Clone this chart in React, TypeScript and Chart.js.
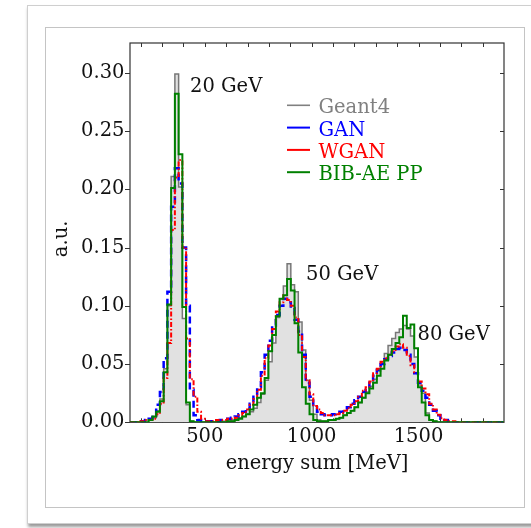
import React, { useEffect, useRef } from "react";
import { Chart, registerables } from "chart.js";

Chart.register(...registerables);

// Histogram binning (energy sum in MeV)
const HIST_MIN = 150;
const HIST_MAX = 1900;
const N_BINS = 100;

const xTicks = [500, 1000, 1500];
const xMinorTicks = [200, 300, 400, 500, 600, 700, 800, 900, 1000, 1100, 1200, 1300, 1400, 1500, 1600, 1700, 1800];
const yTicks = [0, 0.05, 0.1, 0.15, 0.2, 0.25, 0.3];

const seriesLabels = ["Geant4", "GAN", "WGAN", "BIB-AE PP"];
const peakLabels = ["20 GeV", "50 GeV", "80 GeV"];

const geant4 = [
  0, 0, 0, 0.001, 0.002, 0.003, 0.004, 0.010, 0.020, 0.046,
  0.100, 0.211, 0.299, 0.202, 0.089, 0.015, 0.001, 0, 0, 0,
  0, 0, 0, 0.0005, 0.001, 0.001, 0.001, 0.002, 0.003, 0.004,
  0.005, 0.007, 0.009, 0.012, 0.017, 0.024, 0.036, 0.052, 0.068, 0.090,
  0.106, 0.117, 0.136, 0.118, 0.112, 0.086, 0.062, 0.036, 0.019, 0.007,
  0.002, 0.001, 0.001, 0.002, 0.002, 0.003, 0.004, 0.006, 0.008, 0.010,
  0.013, 0.017, 0.021, 0.026, 0.031, 0.037, 0.044, 0.052, 0.059, 0.066,
  0.072, 0.077, 0.080, 0.083, 0.080, 0.074, 0.056, 0.032, 0.025, 0.008,
  0.002, 0.001, 0, 0, 0, 0, 0, 0, 0, 0,
  0, 0, 0, 0, 0, 0, 0, 0, 0, 0,
];

const gan = [
  0, 0, 0, 0.001, 0.002, 0.003, 0.006, 0.015, 0.026, 0.055,
  0.112, 0.185, 0.218, 0.205, 0.150, 0.100, 0.028, 0.006, 0.002, 0.001,
  0.001, 0.001, 0.001, 0.001, 0.002, 0.002, 0.003, 0.004, 0.005, 0.007,
  0.009, 0.012, 0.016, 0.022, 0.030, 0.043, 0.058, 0.070, 0.083, 0.092,
  0.100, 0.106, 0.103, 0.098, 0.088, 0.078, 0.058, 0.034, 0.022, 0.013,
  0.009, 0.007, 0.006, 0.006, 0.007, 0.008, 0.009, 0.011, 0.013, 0.016,
  0.019, 0.022, 0.026, 0.030, 0.034, 0.040, 0.045, 0.050, 0.054, 0.057,
  0.060, 0.063, 0.064, 0.062, 0.058, 0.050, 0.042, 0.034, 0.027, 0.021,
  0.015, 0.010, 0.006, 0.003, 0.002, 0.001, 0, 0, 0, 0,
  0, 0, 0, 0, 0, 0, 0, 0, 0, 0,
];

const wgan = [
  0, 0, 0.001, 0.001, 0.002, 0.002, 0.003, 0.007, 0.016, 0.038,
  0.068, 0.165, 0.210, 0.225, 0.150, 0.072, 0.037, 0.022, 0.009, 0.003,
  0.001, 0.001, 0.001, 0.002, 0.002, 0.002, 0.003, 0.003, 0.004, 0.006,
  0.008, 0.011, 0.015, 0.020, 0.028, 0.040, 0.055, 0.066, 0.080, 0.095,
  0.103, 0.109, 0.105, 0.100, 0.090, 0.075, 0.056, 0.036, 0.024, 0.014,
  0.011, 0.008, 0.006, 0.006, 0.006, 0.007, 0.008, 0.010, 0.012, 0.015,
  0.018, 0.022, 0.027, 0.030, 0.035, 0.042, 0.046, 0.052, 0.055, 0.058,
  0.061, 0.065, 0.067, 0.064, 0.057, 0.049, 0.043, 0.035, 0.029, 0.024,
  0.016, 0.011, 0.0065, 0.0035, 0.002, 0.001, 0.001, 0, 0, 0,
  0, 0, 0, 0, 0, 0, 0, 0, 0, 0,
];

const bibae = [
  0, 0, 0, 0, 0, 0.002, 0.005, 0.009, 0.018, 0.043,
  0.101, 0.201, 0.282, 0.230, 0.099, 0.017, 0.001, 0, 0, 0,
  0, 0, 0, 0, 0, 0, 0.001, 0.001, 0.002, 0.003,
  0.005, 0.007, 0.011, 0.015, 0.021, 0.025, 0.038, 0.061, 0.075, 0.091,
  0.106, 0.109, 0.123, 0.113, 0.085, 0.060, 0.030, 0.016, 0.007, 0.002,
  0.001, 0.001, 0.001, 0.002, 0.002, 0.003, 0.004, 0.006, 0.008, 0.010,
  0.013, 0.017, 0.021, 0.025, 0.029, 0.034, 0.040, 0.046, 0.053, 0.058,
  0.063, 0.068, 0.073, 0.0915, 0.081, 0.084, 0.0635, 0.030, 0.017, 0.006,
  0.002, 0.001, 0, 0, 0, 0, 0, 0, 0, 0,
  0, 0, 0, 0, 0, 0, 0, 0, 0, 0,
];

const FONT_FAMILY = "'DejaVu Serif', 'Liberation Serif', serif";
const FONT_SIZE = 19.5;

const binEdges = Array.from({ length: N_BINS + 1 }, (_, i) => HIST_MIN + (i * (HIST_MAX - HIST_MIN)) / N_BINS);

function stepData(vals: number[]) {
  const pts = vals.map((v, i) => ({ x: binEdges[i], y: v }));
  pts.push({ x: binEdges[N_BINS], y: vals[N_BINS - 1] });
  return pts;
}

const legendColors = ["#808080", "#0000ff", "#ff0000", "#008000"];

const decorPlugin = {
  id: "decor",
  beforeDatasetsDraw(chart: any) {
    const { ctx, chartArea: a, scales } = chart;
    const xs = scales.x;
    const ys = scales.y;
    ctx.save();
    ctx.strokeStyle = "#333";
    ctx.lineWidth = 1.2;
    ctx.strokeRect(a.left, a.top, a.right - a.left, a.bottom - a.top);
    ctx.lineWidth = 1;
    ctx.beginPath();
    for (const v of xMinorTicks) {
      const px = Math.round(xs.getPixelForValue(v)) + 0.5;
      ctx.moveTo(px, a.bottom);
      ctx.lineTo(px, a.bottom - 4);
      ctx.moveTo(px, a.top);
      ctx.lineTo(px, a.top + 4);
    }
    for (const v of yTicks) {
      const py = Math.round(ys.getPixelForValue(v)) + 0.5;
      ctx.moveTo(a.left - 5, py);
      ctx.lineTo(a.left, py);
      ctx.moveTo(a.right, py);
      ctx.lineTo(a.right - 4, py);
    }
    ctx.stroke();
    ctx.restore();
  },
  afterDatasetsDraw(chart: any) {
    const { ctx, chartArea: a } = chart;
    ctx.save();
    ctx.font = `${FONT_SIZE}px ${FONT_FAMILY}`;
    ctx.textBaseline = "alphabetic";
    ctx.textAlign = "left";
    // peak annotations
    ctx.fillStyle = "#111";
    const peakPos = [
      [a.left + 60, a.top + 48.7],
      [a.left + 176, a.top + 237],
      [a.left + 287.5, a.top + 297],
    ];
    peakLabels.forEach((t, i) => ctx.fillText(t, peakPos[i][0], peakPos[i][1]));
    // legend
    const lx0 = a.left + 157;
    const lx1 = a.left + 180;
    const tx = a.left + 188.5;
    const y0 = a.top + 62.3;
    const dy = 22.3;
    seriesLabels.forEach((t, i) => {
      const y = y0 + i * dy;
      ctx.strokeStyle = legendColors[i];
      ctx.lineWidth = i === 0 ? 1.6 : 2;
      ctx.setLineDash([]);
      ctx.beginPath();
      ctx.moveTo(lx0, y);
      ctx.lineTo(lx1, y);
      ctx.stroke();
      ctx.fillStyle = legendColors[i];
      ctx.fillText(t, tx, y + 8);
    });
    ctx.restore();
  },
};

export default function App() {
  const ref = useRef<HTMLCanvasElement | null>(null);

  useEffect(() => {
    if (!ref.current) return;
    const font = { family: FONT_FAMILY, size: FONT_SIZE };
    const chart = new Chart(ref.current, {
      type: "line",
      data: {
        datasets: [
          {
            label: seriesLabels[3],
            data: stepData(bibae),
            borderColor: "#008000",
            borderWidth: 2,
            stepped: "before",
            pointRadius: 0,
            fill: false,
            order: 1,
          },
          {
            label: seriesLabels[2],
            data: stepData(wgan),
            borderColor: "#ff0000",
            borderWidth: 2,
            borderDash: [5, 2, 1.5, 2],
            stepped: "before",
            pointRadius: 0,
            fill: false,
            order: 2,
          },
          {
            label: seriesLabels[1],
            data: stepData(gan),
            borderColor: "#0000ff",
            borderWidth: 2.5,
            borderDash: [7, 4],
            stepped: "before",
            pointRadius: 0,
            fill: false,
            order: 3,
          },
          {
            label: seriesLabels[0],
            data: stepData(geant4),
            borderColor: "#777777",
            backgroundColor: "#e1e1e1",
            borderWidth: 1.5,
            stepped: "before",
            pointRadius: 0,
            fill: "origin",
            order: 4,
          },
        ] as any,
      },
      options: {
        responsive: false,
        maintainAspectRatio: false,
        animation: false,
        devicePixelRatio: 1,
        layout: { padding: { left: 0, right: 27, top: 43, bottom: 0 } },
        plugins: { legend: { display: false }, tooltip: { enabled: false } },
        scales: {
          x: {
            type: "linear",
            min: HIST_MIN,
            max: HIST_MAX,
            afterBuildTicks: (s: any) => {
              s.ticks = xTicks.map((v) => ({ value: v }));
            },
            afterFit: (s: any) => {
              s.height = 105.7;
            },
            grid: { display: false, drawTicks: false },
            border: { display: false },
            ticks: {
              font,
              color: "#111",
              padding: 3,
              maxRotation: 0,
              autoSkip: false,
              callback: (v: any) => String(v),
            },
            title: {
              display: true,
              text: "energy sum [MeV]",
              font,
              color: "#111",
              padding: { top: 0, bottom: 52.8 },
            },
          },
          y: {
            type: "linear",
            min: 0,
            max: 0.3255,
            afterBuildTicks: (s: any) => {
              s.ticks = yTicks.map((v) => ({ value: v }));
            },
            afterFit: (s: any) => {
              s.width = 130;
            },
            grid: { display: false, drawTicks: false },
            border: { display: false },
            ticks: {
              font,
              color: "#111",
              padding: 5.5,
              autoSkip: false,
              callback: (v: any) => Number(v).toFixed(2),
            },
            title: {
              display: true,
              text: "a.u.  ",
              font,
              color: "#111",
              padding: { top: 50.6, bottom: 0 },
            },
          },
        },
      } as any,
      plugins: [decorPlugin],
    });
    return () => chart.destroy();
  }, []);

  return (
    <div
      style={{
        position: "absolute",
        left: 0,
        top: 0,
        width: 531,
        height: 528,
        overflow: "hidden",
        background: "#fff",
      }}
    >
      <div
        style={{
          position: "absolute",
          left: 27,
          top: 5,
          width: 560,
          height: 519,
          boxSizing: "border-box",
          border: "1px solid #cfcfcf",
          boxShadow: "1px 3px 3px rgba(0,0,0,0.4)",
          background: "#fff",
        }}
      />
      <div
        style={{
          position: "absolute",
          left: 45,
          top: 27,
          width: 480,
          height: 481,
          boxSizing: "border-box",
          border: "1.5px solid #c4c4c4",
        }}
      />
      <canvas
        ref={ref}
        width={531}
        height={528}
        style={{ position: "absolute", left: 0, top: 0, width: 531, height: 528 }}
      />
    </div>
  );
}
